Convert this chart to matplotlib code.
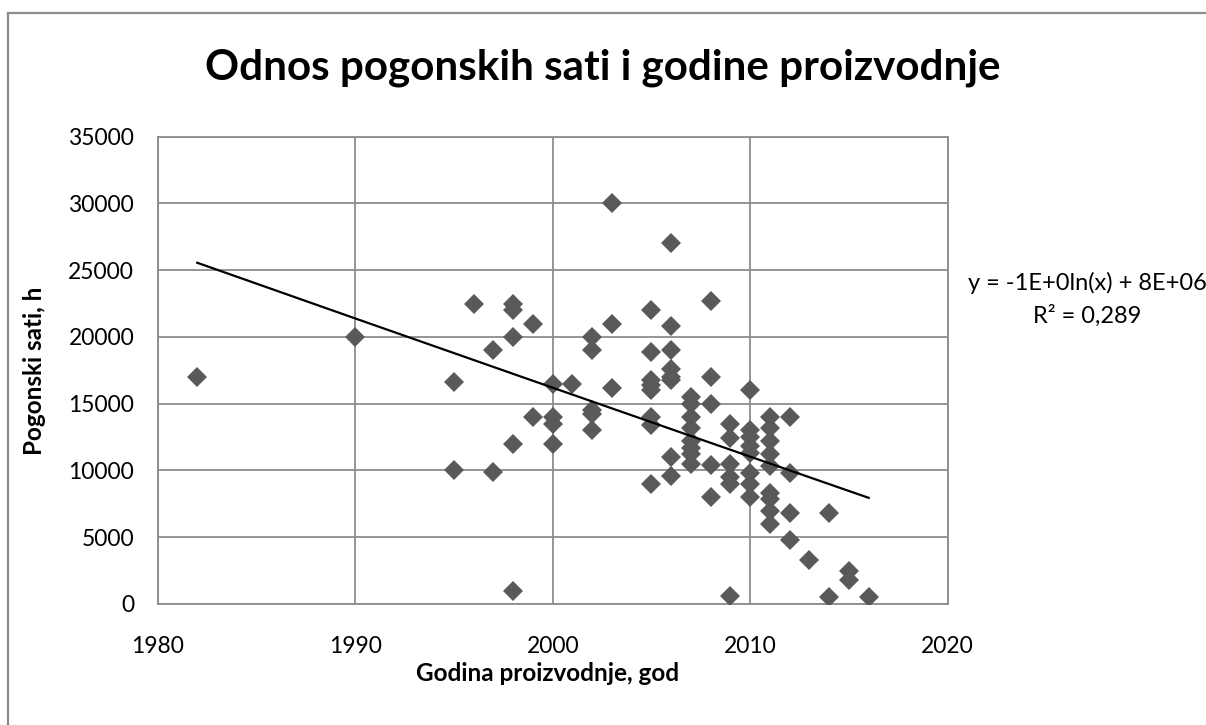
import matplotlib.pyplot as plt
import numpy as np

# year of production and operating hours
godina = [1982, 1990,
          1995, 1995,
          1996,
          1997, 1997,
          1998, 1998, 1998, 1998, 1998,
          1999, 1999,
          2000, 2000, 2000, 2000,
          2001,
          2002, 2002, 2002, 2002, 2002,
          2003, 2003, 2003,
          2005, 2005, 2005, 2005, 2005, 2005, 2005, 2005,
          2006, 2006, 2006, 2006, 2006, 2006, 2006, 2006,
          2007, 2007, 2007, 2007, 2007, 2007, 2007, 2007,
          2008, 2008, 2008, 2008, 2008,
          2009, 2009, 2009, 2009, 2009, 2009,
          2010, 2010, 2010, 2010, 2010, 2010, 2010, 2010,
          2011, 2011, 2011, 2011, 2011, 2011, 2011, 2011, 2011,
          2012, 2012, 2012, 2012,
          2013,
          2014, 2014,
          2015, 2015,
          2016]
sati = [17000, 20000,
        16600, 10000,
        22500,
        19000, 9900,
        22500, 22000, 20000, 12000, 1000,
        21000, 14000,
        16500, 14000, 13500, 12000,
        16500,
        20000, 19000, 14500, 14200, 13000,
        30000, 21000, 16200,
        22000, 18900, 16800, 16400, 16000, 14000, 13400, 9000,
        27000, 20800, 19000, 17600, 17000, 16800, 11000, 9600,
        15500, 15000, 14000, 13200, 12200, 11700, 11200, 10500,
        22700, 17000, 15000, 10400, 8000,
        13500, 12400, 10500, 9500, 9000, 600,
        16000, 13000, 12500, 11800, 11300, 9800, 9000, 8000,
        14000, 13200, 12200, 11200, 10300, 8300, 7900, 7000, 6000,
        14000, 9800, 6800, 4800,
        3300,
        6800, 500,
        2500, 1800,
        500]

x_ticks = [1980, 1990, 2000, 2010, 2020]
y_ticks = [0, 5000, 10000, 15000, 20000, 25000, 30000, 35000]

plt.rcParams['font.family'] = ['Lato', 'DejaVu Sans']

fig = plt.figure(figsize=(12.06, 7.25), dpi=100)
ax = fig.add_axes([0.1308, 0.1669, 0.655, 0.6446])

x = np.array(godina, dtype=float)
y = np.array(sati, dtype=float)
ax.plot(x, y, linestyle='none', marker='D', markersize=10.2,
        color='#595959', markeredgewidth=0, zorder=3)

# logarithmic trend line like in Excel
a, b = np.polyfit(np.log(x), y, 1)
xt = np.linspace(x.min(), x.max(), 200)
ax.plot(xt, a * np.log(xt) + b, color='black', lw=1.6, zorder=4)

ax.set_xlim(1980, 2020)
ax.set_ylim(0, 35000)
ax.set_xticks(x_ticks)
ax.set_yticks(y_ticks)
ax.tick_params(length=0, labelsize=16.5, colors='black')
ax.tick_params(axis='y', pad=17)
ax.tick_params(axis='x', pad=23)
ax.grid(True, color='#8c8c8c', lw=1.3)
ax.set_axisbelow(True)
for s in ax.spines.values():
    s.set_color('#8c8c8c')
    s.set_linewidth(1.3)

ax.set_xlabel('Godina proizvodnje, god', fontsize=17.5, fontweight='bold')
ax.xaxis.set_label_coords(0.493, -0.124)
ax.set_ylabel('Pogonski sati, h', fontsize=17.5, fontweight='bold')
ax.yaxis.set_label_coords(-0.142, 0.5)

fig.text(0.5, 0.906, 'Odnos pogonskih sati i godine proizvodnje',
         ha='center', va='center', fontsize=30.3, fontweight='bold')

fig.text(0.9015, 0.587, 'y = -1E+0ln(x) + 8E+06\nR² = 0,289',
         ha='center', va='center', fontsize=17, linespacing=1.55)

# chart area border (left and top)
fig.add_artist(plt.Line2D([8 / 1206, 8 / 1206], [0, 1 - 13 / 725],
                          color='#8c8c8c', lw=1.6))
fig.add_artist(plt.Line2D([8 / 1206, 1], [1 - 13 / 725, 1 - 13 / 725],
                          color='#8c8c8c', lw=1.6))

fig.savefig('out.png', dpi=100)
